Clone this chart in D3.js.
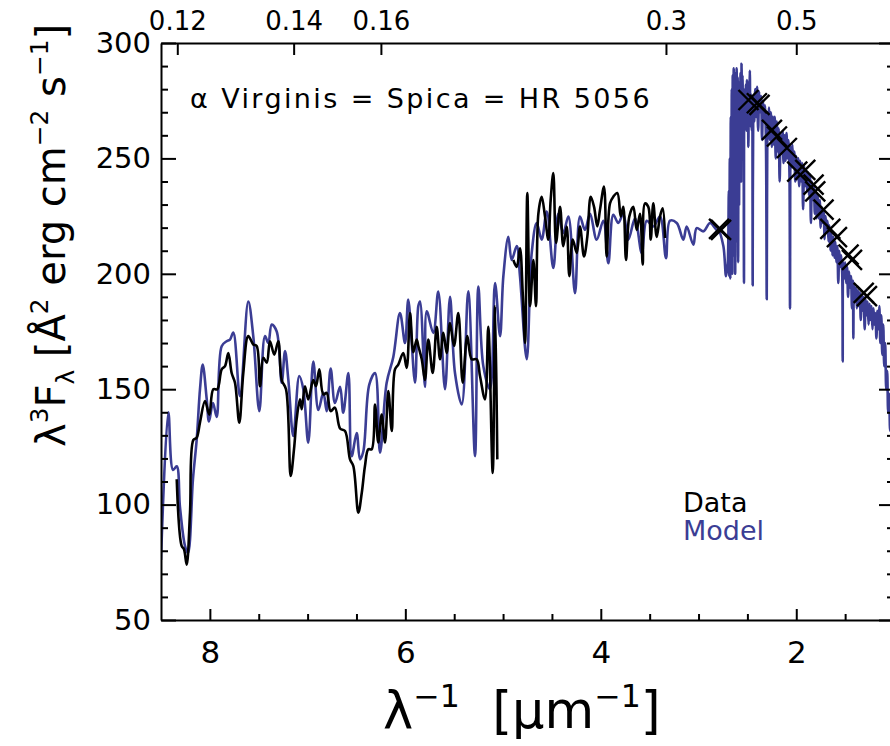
<!DOCTYPE html>
<html>
<head>
<meta charset="utf-8">
<script src="https://cdn.jsdelivr.net/npm/d3@7"></script>
<style>
  html, body { margin: 0; padding: 0; background: #fff; }
  svg { display: block; font-family: "DejaVu Sans", sans-serif; }
</style>
</head>
<body>
<svg id="chart" width="890" height="746"></svg>
<script>
// Synthetic spectrum (model): [inverse wavelength in 1/micron, lambda^3 F_lambda]
const modelSpectrum = [
  [8.500,76],[8.425,140],[8.377,115],[8.339,116.6],[8.306,99],[8.254,82],[8.224,79],[8.173,111],
  [8.135,128],[8.101,150],[8.073,160.7],[8.032,145.6],[8.009,136],[7.968,144],[7.930,138],[7.879,168.6],
  [7.828,170.8],[7.794,171.5],[7.760,174.5],[7.692,147],[7.607,188],[7.556,173],[7.494,140.5],[7.436,173],
  [7.402,170],[7.367,178],[7.316,175],[7.265,152.8],[7.231,166.5],[7.197,154],[7.146,129.7],[7.085,155.7],
  [7.044,150],[6.993,126.8],[6.942,162],[6.890,141],[6.839,148.5],[6.805,140.5],[6.764,159],[6.720,144],
  [6.668,151],[6.635,139.8],[6.583,157],[6.549,121],[6.498,131],[6.464,119.6],[6.430,123],[6.369,152],
  [6.310,157],[6.259,122.5],[6.191,152.8],[6.123,164],[6.055,183],[6.003,170],[5.970,188.8],[5.901,152.8],
  [5.867,186],[5.850,188],[5.799,151],[5.781,183.8],[5.714,174.4],[5.663,192.3],[5.594,150],[5.543,190],
  [5.492,157],[5.423,143.4],[5.356,192.4],[5.287,121],[5.253,194.5],[5.202,160],[5.134,150],[5.082,196],
  [5.031,173],[4.997,199],[4.946,216],[4.912,206],[4.860,212],[4.827,199],[4.758,163],[4.707,209],
  [4.656,222],[4.605,214.8],[4.553,227],[4.486,202.5],[4.435,226],[4.384,217.6],[4.332,224.8],[4.264,191.6],
  [4.213,224.8],[4.162,219],[4.110,226],[4.042,214.8],[3.974,223],[3.923,204.6],[3.872,225.6],[3.821,222],
  [3.770,226],[3.718,214.8],[3.650,224],[3.581,209],[3.530,223],[3.463,220.5],[3.394,224.8],[3.333,206.8],
  [3.292,223],[3.223,222],[3.156,214.8],[3.121,220.5],[3.053,212.6],[3.019,219.8],[2.951,218.4],[2.882,222],
  [2.814,219],[2.797,219],[2.746,212],[2.719,199],[2.705,203],
  [2.700,205],[2.690,236],[2.685,199],[2.680,250],[2.675,198],[2.670,268],[2.665,204],[2.660,280],
  [2.655,200],[2.650,286],[2.645,208],[2.640,289],[2.635,240],[2.630,287],[2.625,200],[2.620,284],
  [2.615,214],[2.610,289],[2.605,250],[2.600,285],[2.595,205],[2.590,280],[2.585,230],[2.580,283],
  [2.575,260],[2.570,287],[2.565,240],[2.560,291],[2.555,270],[2.550,286],[2.545,262],[2.540,280],
  [2.535,196],[2.530,278],[2.520,268],[2.515,282],[2.510,262],[2.505,284],[2.500,270],[2.495,283],
  [2.490,255],[2.485,279],[2.480,266],[2.475,288],[2.470,264],[2.465,278],[2.455,262],[2.450,276],
  [2.446,195],[2.440,272],[2.435,277],[2.430,266],[2.420,280],[2.410,268],[2.400,281],[2.390,262],
  [2.380,279],[2.370,270],[2.360,277],[2.350,258],[2.340,275],[2.330,266],[2.320,273],[2.310,256],
  [2.302,189],[2.295,270],[2.290,262],[2.280,272],[2.270,258],[2.260,270],[2.250,255],[2.240,268],
  [2.230,256],[2.220,268],[2.210,250],[2.200,266],[2.190,253],[2.180,263],[2.170,240],[2.160,260],
  [2.150,252],[2.140,262],[2.130,248],[2.120,260],[2.110,249],[2.100,261],[2.090,250],[2.080,258],
  [2.070,244],[2.064,185],[2.058,255],[2.050,246],[2.040,256],[2.030,246],[2.020,253],[2.010,240],
  [2.000,251],[1.990,241],[1.980,250],[1.970,238],[1.960,249],[1.950,240],[1.940,248],[1.930,228],
  [1.920,247],[1.910,238],[1.900,245],[1.890,236],[1.880,244],[1.870,234],[1.860,243],[1.850,222],
  [1.840,240],[1.830,232],[1.820,238],[1.810,226],[1.800,236],[1.790,224],[1.780,234],[1.770,224],
  [1.760,232],[1.750,220],[1.740,229],[1.730,222],[1.720,227],[1.710,215],[1.700,225],[1.690,218],
  [1.680,223],[1.670,214],[1.660,221],[1.650,210],[1.640,218],[1.630,208],[1.620,216],[1.610,207],
  [1.600,214],[1.590,205],[1.580,212],[1.570,196],[1.560,210],[1.550,203],[1.540,208],[1.530,200],
  [1.525,162],[1.520,205],[1.510,198],[1.500,205],[1.490,196],[1.480,203],[1.470,190],[1.460,201],
  [1.450,194],[1.440,199],[1.430,185],[1.420,197],[1.416,172],[1.410,195],[1.400,188],[1.390,194],
  [1.380,185],[1.370,193],[1.360,186],[1.350,192],[1.340,180],[1.330,191],[1.320,184],[1.310,190],
  [1.300,176],[1.290,189],[1.280,182],[1.270,188],[1.260,178],[1.250,187],[1.240,180],[1.230,186],
  [1.220,176],[1.210,185],[1.200,178],[1.190,183],[1.180,172],[1.170,184],[1.160,176],[1.150,186],
  [1.140,170],[1.130,182],[1.120,165],[1.110,178],[1.100,160],[1.090,170],[1.080,150],[1.070,158],
  [1.060,140],[1.050,148],[1.040,132],[1.030,140],[1.020,125],[1.010,130],[1.000,120]
];

// Observed ultraviolet spectrum, short-wavelength camera
const dataShortUV = [
  [8.339,111],[8.288,82],[8.265,80.7],[8.237,74],[8.203,96.7],[8.169,128],[8.135,129],[8.101,135.6],
  [8.050,144.9],[8.006,139],[7.965,150],[7.924,150],[7.879,158.6],[7.845,160],[7.811,165.7],[7.777,157],
  [7.743,152.8],[7.699,135.5],[7.658,157],[7.607,173],[7.556,169.4],[7.521,168.7],[7.487,151.3],[7.453,163.6],
  [7.418,161.5],[7.385,170.8],[7.341,165],[7.300,170.8],[7.265,154],[7.221,150],[7.173,112.4],[7.139,124],
  [7.112,137],[7.078,145.6],[7.060,141.3],[7.027,151.3],[6.993,145.6],[6.942,154],[6.914,151.3],[6.880,158.6],
  [6.839,147.7],[6.805,148.4],[6.764,140.5],[6.720,142],[6.668,133],[6.617,131.9],[6.566,119.6],[6.532,116.7],
  [6.481,96.5],[6.446,105],[6.413,116.7],[6.379,124],[6.344,124],[6.310,143.4],[6.277,126.9],[6.242,139],
  [6.208,126.9],[6.174,149.2],[6.139,131.9],[6.106,158.6],[6.072,160.7],[6.021,165.7],[5.986,159.2],[5.952,183],
  [5.918,166],[5.884,171.5],[5.867,168.7],[5.832,163],[5.799,154],[5.765,171.5],[5.720,157],[5.679,177],
  [5.645,163],[5.611,174.4],[5.577,165.7],[5.543,178.7],[5.502,168.7],[5.458,183],[5.413,152.8],[5.366,173],
  [5.321,163],[5.270,163],[5.236,155.7],[5.185,145.6],[5.151,177],[5.106,113.7],[5.082,186],[5.059,119.6]
];

// Observed ultraviolet spectrum, long-wavelength camera
const dataLongUV = [
  [4.895,206],[4.860,203],[4.827,211],[4.799,191.7],[4.775,170],[4.752,235],[4.724,186],[4.690,206],
  [4.663,186],[4.639,226],[4.605,233.4],[4.571,224.9],[4.537,214.8],[4.513,232],[4.486,243.6],[4.458,213.4],
  [4.417,229],[4.384,212],[4.349,220.5],[4.322,199],[4.287,214.8],[4.246,209],[4.213,220.5],[4.172,207.5],
  [4.138,216],[4.103,233.4],[4.069,229],[4.036,220.5],[4.008,227.8],[3.967,237.8],[3.940,207.5],[3.906,230.5],
  [3.872,233.4],[3.831,235],[3.796,224.9],[3.770,229],[3.742,206],[3.708,224.9],[3.667,229],[3.633,219],
  [3.599,226],[3.571,204],[3.548,230.5],[3.514,229],[3.489,214.8],[3.463,230.5],[3.428,216],[3.394,224.9],
  [3.367,228.4],[3.343,215.5]
];

// Broad-band photometry
const photometry = [
  [2.790,219.5],[2.770,219],[2.489,275.3],[2.403,273.9],[2.376,273.2],[2.249,262.4],[2.198,259.5],
  [2.096,254.5],[1.990,244.3],[1.908,245],[1.823,238.6],[1.806,235.7],[1.721,227.8],[1.652,219.5],
  [1.584,215.9],[1.465,208.3],[1.430,206],[1.310,191.7],[1.277,190.3]
];

const bottomTicks = [8, 6, 4, 2];
const leftTicks = [50, 100, 150, 200, 250, 300];
const topTickWavelengths = [0.12, 0.14, 0.16, 0.3, 0.5];   // microns
const legendLabels = ["Data", "Model"];
const titleText = "\u03b1 Virginis = Spica = HR 5056";

const MODEL_BLUE = "#3b3d94";
const plot = { left: 161, right: 894, top: 43, bottom: 620 };

const svg = d3.select("#chart");

const x = d3.scaleLinear().domain([8.5, 1.0]).range([plot.left, plot.right]);
const y = d3.scaleLinear().domain([50, 300]).range([plot.bottom, plot.top]);

svg.append("defs").append("clipPath").attr("id", "plotClip")
  .append("rect")
  .attr("x", plot.left).attr("y", plot.top)
  .attr("width", plot.right - plot.left).attr("height", plot.bottom - plot.top);

const line = d3.line().x(d => x(d[0])).y(d => y(d[1])).curve(d3.curveCatmullRom.alpha(0.5));

const curves = svg.append("g").attr("clip-path", "url(#plotClip)");
curves.append("path").datum(modelSpectrum)
  .attr("d", line).attr("fill", "none")
  .attr("stroke", MODEL_BLUE).attr("stroke-width", 2.6).attr("stroke-linejoin", "round");
[dataShortUV, dataLongUV].forEach(seg => {
  curves.append("path").datum(seg)
    .attr("d", line).attr("fill", "none")
    .attr("stroke", "#000").attr("stroke-width", 2.6).attr("stroke-linejoin", "round");
});

// photometric points as X symbols
curves.selectAll("path.phot").data(photometry).join("path")
  .attr("class", "phot")
  .attr("transform", d => `translate(${x(d[0])},${y(d[1])})`)
  .attr("d", "M-10,-10L10,10M-10,10L10,-10")
  .attr("stroke", "#000").attr("stroke-width", 2.4).attr("fill", "none");

// ---- axes ----
function styleAxis(g, fontSize) {
  g.select(".domain").attr("stroke", "#000").attr("stroke-width", 2);
  g.selectAll(".tick line").attr("stroke", "#000").attr("stroke-width", 2);
  g.selectAll(".tick text").attr("fill", "#000")
    .attr("font-family", "DejaVu Sans, sans-serif").attr("font-size", fontSize);
}

const minorX = d3.range(15, 86, 5).map(v => v / 10).filter(v => !bottomTicks.includes(v) && v < 8.5 && v > 1.0);
const minorY = d3.range(60, 300, 10).filter(v => !leftTicks.includes(v));

// bottom
const gBottom = svg.append("g").attr("transform", `translate(0,${plot.bottom})`)
  .call(d3.axisBottom(x).tickValues(bottomTicks).tickSizeInner(-11).tickSizeOuter(0)
    .tickPadding(21).tickFormat(d3.format("d")));
styleAxis(gBottom, 31);
const gBottomMinor = svg.append("g").attr("transform", `translate(0,${plot.bottom})`)
  .call(d3.axisBottom(x).tickValues(minorX).tickSizeInner(-6).tickSizeOuter(0).tickFormat(""));
styleAxis(gBottomMinor, 10);
gBottomMinor.select(".domain").remove();

// top: wavelength in microns
const gTop = svg.append("g").attr("transform", `translate(0,${plot.top})`)
  .call(d3.axisTop(x).tickValues(topTickWavelengths.map(l => 1 / l)).tickSizeInner(-12).tickSizeOuter(0)
    .tickPadding(13).tickFormat((d, i) => String(topTickWavelengths[i])));
styleAxis(gTop, 26);

// left
const gLeft = svg.append("g").attr("transform", `translate(${plot.left},0)`)
  .call(d3.axisLeft(y).tickValues(leftTicks).tickSizeInner(-15).tickSizeOuter(0)
    .tickPadding(10).tickFormat(d3.format("d")));
styleAxis(gLeft, 29);
const gLeftMinor = svg.append("g").attr("transform", `translate(${plot.left},0)`)
  .call(d3.axisLeft(y).tickValues(minorY).tickSizeInner(-7).tickSizeOuter(0).tickFormat(""));
styleAxis(gLeftMinor, 10);
gLeftMinor.select(".domain").remove();

// right
const gRight = svg.append("g").attr("transform", `translate(${plot.right},0)`)
  .call(d3.axisRight(y).tickValues(leftTicks).tickSizeInner(-15).tickSizeOuter(0).tickFormat(""));
styleAxis(gRight, 10);
const gRightMinor = svg.append("g").attr("transform", `translate(${plot.right},0)`)
  .call(d3.axisRight(y).tickValues(minorY).tickSizeInner(-7).tickSizeOuter(0).tickFormat(""));
styleAxis(gRightMinor, 10);
gRightMinor.select(".domain").remove();

// ---- rich text helper (superscripts / subscripts) ----
function richText(sel, parts, fs) {
  let shift = 0;
  parts.forEach(p => {
    const target = p.sup ? -0.42 * fs : (p.sub ? 0.22 * fs : 0);
    const ts = sel.append("tspan").text(p.t).attr("dy", target - shift);
    if (p.sup || p.sub) ts.attr("font-size", 0.62 * fs);
    shift = target;
  });
}

// title
svg.append("text")
  .attr("x", 190).attr("y", 108)
  .attr("font-size", 27).attr("letter-spacing", 2.4).attr("fill", "#000")
  .text(titleText);

// legend
svg.selectAll("text.legend").data(legendLabels).join("text")
  .attr("class", "legend")
  .attr("x", 683).attr("y", (d, i) => 512 + i * 28)
  .attr("font-size", 27)
  .attr("fill", (d, i) => i === 0 ? "#000" : MODEL_BLUE)
  .text(d => d);

// x axis title
const xt = svg.append("text").attr("x", 383).attr("y", 728).attr("font-size", 51).attr("fill", "#000")
  .attr("xml:space", "preserve");
richText(xt, [{t: "\u03bb"}, {t: "\u22121", sup: true}, {t: "  [\u03bcm"}, {t: "\u22121", sup: true}, {t: "]"}], 51);

// y axis title
const yt = svg.append("text").attr("transform", "translate(65,447) rotate(-90)")
  .attr("font-size", 40).attr("fill", "#000").attr("xml:space", "preserve");
richText(yt, [
  {t: "\u03bb"}, {t: "3", sup: true}, {t: "F"}, {t: "\u03bb", sub: true},
  {t: " [\u00c5"}, {t: "2", sup: true}, {t: " erg cm"}, {t: "\u22122", sup: true},
  {t: " s"}, {t: "\u22121", sup: true}, {t: "]"}
], 40);
</script>
</body>
</html>
